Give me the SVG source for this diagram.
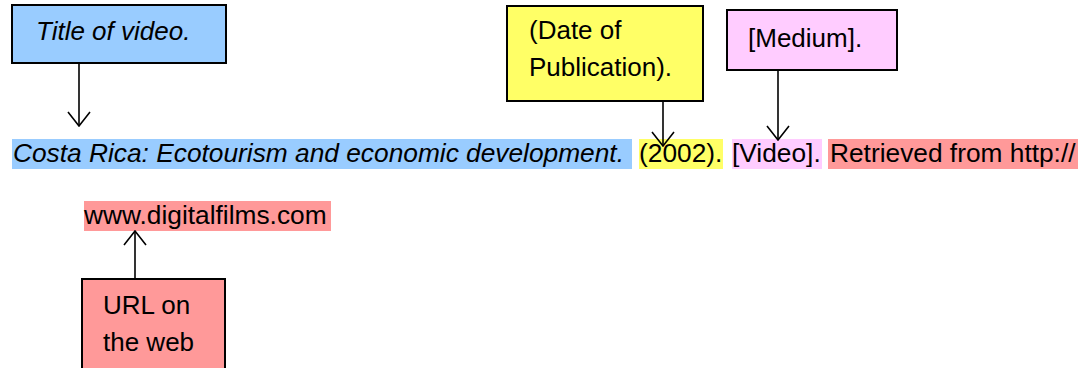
<svg xmlns="http://www.w3.org/2000/svg" width="1082" height="368" viewBox="0 0 1082 368">
  <defs>
    <style>
      .t { font-family: "Liberation Sans", Arial, sans-serif; font-size: 26px; fill: #000; }
      .c { font-size: 26.3px; }
      .i { font-style: italic; }
      .box { stroke: #000; stroke-width: 2; }
      .conn { stroke: #000; stroke-width: 1.6; fill: none; marker-end: url(#vh); }
    </style>
    <marker id="vh" viewBox="0 0 16 24" refX="15" refY="12" markerWidth="16" markerHeight="24" markerUnits="userSpaceOnUse" orient="auto">
      <path d="M1,1 L15,12 L1,23" fill="none" stroke="#000" stroke-width="1.6"/>
    </marker>
  </defs>
  <rect width="1082" height="368" fill="#fff"/>

  <g id="citation">
    <rect x="12" y="139" width="620" height="30" fill="#99CCFF"/>
    <rect x="639" y="139" width="84" height="30" fill="#FFFF66"/>
    <rect x="732" y="139" width="90" height="30" fill="#FFCCFF"/>
    <rect x="828" y="139" width="250" height="30" fill="#FF9999"/>
    <rect x="84" y="201" width="247" height="30" fill="#FF9999"/>
    <text class="t c i" x="13" y="162">Costa Rica: Ecotourism and economic development.</text>
    <text class="t c" x="639" y="162">(2002).</text>
    <text class="t c" x="732" y="162">[Video].</text>
    <text class="t c" x="830" y="162">Retrieved from http://</text>
    <text class="t c" x="84" y="224">www.digitalfilms.com</text>
  </g>

  <g id="node-title">
    <rect class="box" x="12" y="5" width="214" height="58" fill="#99CCFF"/>
    <text class="t i" x="36" y="40">Title of video.</text>
  </g>

  <g id="node-date">
    <rect class="box" x="507" y="6" width="196" height="95" fill="#FFFF66"/>
    <text class="t" x="529" y="39">(Date of</text>
    <text class="t" x="529" y="76">Publication).</text>
  </g>

  <g id="node-medium">
    <rect class="box" x="727" y="10" width="170" height="60" fill="#FFCCFF"/>
    <text class="t" x="748" y="47">[Medium].</text>
  </g>

  <g id="node-url">
    <rect class="box" x="82" y="279" width="143" height="100" fill="#FF9999"/>
    <text class="t" x="103" y="314">URL on</text>
    <text class="t" x="103" y="351">the web</text>
  </g>

  <g id="connectors">
    <line class="conn" x1="79" y1="63" x2="79" y2="126"/>
    <line class="conn" x1="663" y1="101" x2="663" y2="146"/>
    <line class="conn" x1="778" y1="70" x2="778" y2="140"/>
    <line class="conn" x1="135" y1="279" x2="135" y2="231"/>
  </g>
</svg>
